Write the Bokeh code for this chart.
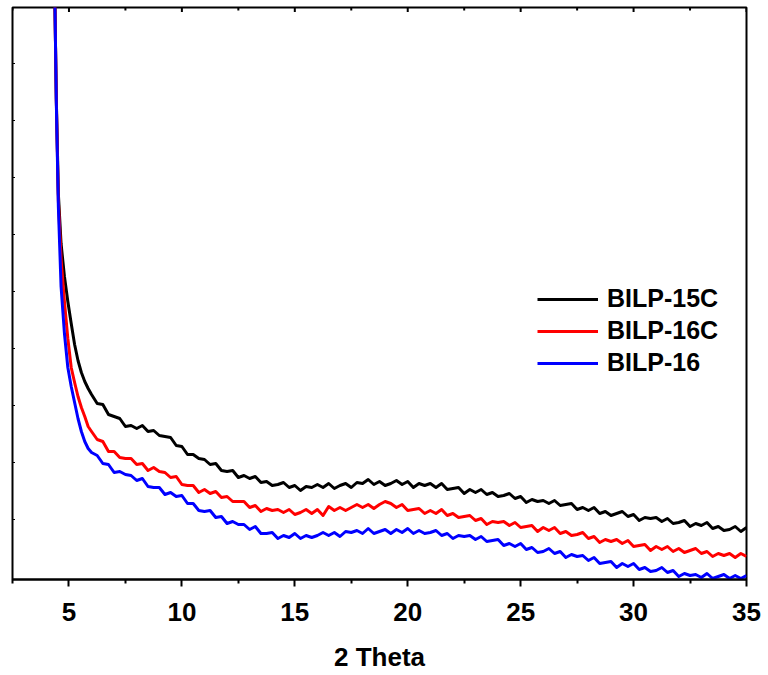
import math
from bokeh.plotting import figure
from bokeh.models import Range1d, LinearAxis, FixedTicker, Legend, LegendItem
from bokeh.embed import file_html
from bokeh.resources import INLINE

series_names = ["BILP-15C", "BILP-16C", "BILP-16"]
series_colors = ["#000000", "#ff0000", "#0000ff"]

x_ticks = [5, 10, 15, 20, 25, 30, 35]
x_minor_ticks = [2.5, 7.5, 12.5, 17.5, 22.5, 27.5, 32.5]
y_ticks = [59, 116, 173, 230, 287, 344, 401, 458, 515]
x_axis_title = "2 Theta"

two_theta = [
    4.30, 4.38, 4.44, 4.53, 4.65, 4.80, 4.95, 5.10, 5.25, 5.40, 5.55, 5.70, 5.85,
    6.00, 6.25, 6.50, 6.75, 7.00, 7.25, 7.50, 7.75, 8.00, 8.25, 8.50, 8.75,
    9.00, 9.25, 9.50, 9.75, 10.00, 10.25, 10.50, 10.75, 11.00, 11.25, 11.50, 11.75,
    12.00, 12.25, 12.50, 12.75, 13.00, 13.25, 13.50, 13.75, 14.00, 14.25, 14.50, 14.75,
    15.00, 15.25, 15.50, 15.75, 16.00, 16.25, 16.50, 16.75, 17.00, 17.25, 17.50, 17.75,
    18.00, 18.25, 18.50, 18.75, 19.00, 19.25, 19.50, 19.75, 20.00, 20.25, 20.50, 20.75,
    21.00, 21.25, 21.50, 21.75, 22.00, 22.25, 22.50, 22.75, 23.00, 23.25, 23.50, 23.75,
    24.00, 24.25, 24.50, 24.75, 25.00, 25.25, 25.50, 25.75, 26.00, 26.25, 26.50, 26.75,
    27.00, 27.25, 27.50, 27.75, 28.00, 28.25, 28.50, 28.75, 29.00, 29.25, 29.50, 29.75,
    30.00, 30.25, 30.50, 30.75, 31.00, 31.25, 31.50, 31.75, 32.00, 32.25, 32.50, 32.75,
    33.00, 33.25, 33.50, 33.75, 34.00, 34.25, 34.50, 34.75, 35.00,
]

bilp_15c = [
    700, 572, 480, 385, 335, 302, 277, 255, 234, 218, 206, 197, 190,
    184, 175, 174, 164, 162, 160, 152, 153, 150, 153, 147, 148,
    143, 142, 141, 133, 132, 124, 124, 120, 119, 114, 115, 108,
    107, 108, 101, 103, 100, 102, 96, 97, 93, 94, 96, 91,
    93, 88, 92, 91, 94, 91, 95, 90, 93, 95, 91, 96,
    95, 99, 94, 97, 93, 95, 98, 94, 97, 91, 95, 93,
    95, 91, 95, 89, 90, 91, 85, 89, 86, 89, 84, 86,
    82, 83, 85, 80, 82, 76, 79, 77, 78, 75, 78, 73,
    74, 75, 69, 71, 68, 71, 65, 67, 63, 65, 67, 62,
    64, 58, 61, 60, 61, 57, 60, 55, 56, 58, 52, 55,
    53, 56, 50, 52, 48, 49, 52, 47, 51,
]

bilp_16c = [
    700, 572, 478, 378, 320, 277, 240, 211, 196, 182, 171, 162, 152,
    147, 139, 137, 127, 127, 121, 120, 120, 114, 115, 108, 111,
    107, 106, 101, 102, 94, 93, 93, 86, 89, 85, 87, 81,
    82, 77, 77, 77, 71, 73, 67, 70, 68, 69, 66, 69,
    64, 66, 69, 65, 69, 63, 72, 68, 71, 68, 71, 74,
    71, 74, 70, 74, 77, 75, 71, 74, 68, 69, 70, 65,
    68, 65, 69, 63, 65, 61, 62, 63, 58, 60, 54, 57,
    56, 57, 53, 56, 51, 52, 53, 47, 51, 48, 51, 45,
    47, 43, 44, 46, 40, 42, 36, 39, 37, 39, 35, 38,
    32, 33, 34, 28, 32, 29, 32, 27, 30, 26, 28, 30,
    25, 27, 22, 25, 23, 25, 21, 25, 22,
]

bilp_16 = [
    700, 572, 476, 372, 292, 245, 211, 192, 176, 160, 147, 137, 130,
    126, 123, 115, 114, 106, 107, 104, 103, 98, 100, 92, 91,
    91, 84, 86, 82, 83, 75, 75, 68, 67, 68, 61, 62,
    55, 57, 54, 54, 49, 52, 45, 45, 46, 40, 43, 41,
    45, 40, 43, 41, 43, 46, 43, 46, 42, 47, 46, 48,
    45, 50, 45, 47, 49, 45, 49, 46, 50, 45, 48, 45,
    46, 48, 43, 45, 40, 43, 42, 43, 39, 42, 37, 38,
    39, 33, 35, 32, 35, 29, 31, 26, 27, 30, 25, 27,
    21, 24, 22, 23, 18, 21, 15, 16, 17, 11, 15, 12,
    15, 9, 11, 7, 8, 11, 6, 8, 2, 5, 3, 4,
    1, 5, 0, 2, 4, 0, 3, 0, 3,
]

series_values = [bilp_15c, bilp_16c, bilp_16]

FONT = "Liberation Sans"
X0, X1 = 2.5, 35.0
Y0, Y1 = -1, 571

p = figure(
    width=766, height=674,
    output_backend="svg", toolbar_location=None,
    x_range=Range1d(X0, X1), y_range=Range1d(Y0, Y1),
    x_axis_location=None, y_axis_location=None,
    min_border_left=12, min_border_right=20, min_border_top=7, min_border_bottom=95,
)
p.xgrid.visible = False
p.ygrid.visible = False
p.outline_line_color = "black"
p.outline_line_width = 2
p.background_fill_color = "white"
p.border_fill_color = "white"

renderers = []
for vals, col in zip(series_values, series_colors):
    r = p.line(two_theta, vals, line_color=col, line_width=3, line_join="round")
    renderers.append(r)

# inward ticks on the top edge and left edge (mirrored frame ticks)
p.scatter(x_ticks, [Y1] * len(x_ticks), marker="dash", angle=math.pi / 2,
          size=9, line_color="black", line_width=2)
p.scatter(x_minor_ticks, [Y1] * len(x_minor_ticks), marker="dash", angle=math.pi / 2,
          size=6, line_color="black", line_width=2)
p.scatter([X0] * len(y_ticks), y_ticks, marker="dash", size=5,
          line_color="black", line_width=1)

xt = FixedTicker(ticks=x_ticks, minor_ticks=x_minor_ticks)
bottom = LinearAxis(ticker=xt, axis_label=x_axis_title)
bottom.axis_line_width = 2
bottom.major_tick_line_width = 2
bottom.minor_tick_line_width = 2
bottom.major_tick_out = 7
bottom.major_tick_in = 0
bottom.minor_tick_out = 4
bottom.minor_tick_in = 0
bottom.major_label_text_font = FONT
bottom.major_label_text_font_style = "bold"
bottom.major_label_text_font_size = "26px"
bottom.major_label_text_color = "black"
bottom.major_label_standoff = 16
bottom.axis_label_text_font = FONT
bottom.axis_label_text_font_style = "bold"
bottom.axis_label_text_font_size = "26px"
bottom.axis_label_text_color = "black"
bottom.axis_label_standoff = 18
p.add_layout(bottom, "below")

legend = Legend(
    items=[LegendItem(label=n, renderers=[r]) for n, r in zip(series_names, renderers)],
    location=(525, 202),
)
legend.label_text_font = FONT
legend.label_text_font_style = "bold"
legend.label_text_font_size = "25px"
legend.label_text_color = "black"
legend.glyph_width = 61
legend.glyph_height = 20
legend.label_height = 20
legend.spacing = 3
legend.padding = 0
legend.margin = 0
legend.label_standoff = 9
legend.border_line_color = None
legend.background_fill_alpha = 0
p.add_layout(legend)

open("out.html", "w").write(file_html(p, INLINE))
